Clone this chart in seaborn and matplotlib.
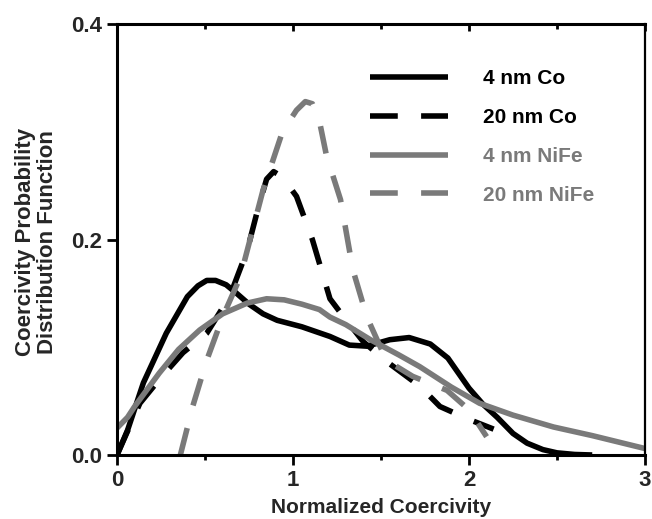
import matplotlib
matplotlib.use("Agg")
import matplotlib.pyplot as plt
import seaborn as sns
import pandas as pd

sns.set_theme(style="white")
plt.rcParams['font.family'] = ['Liberation Sans', 'DejaVu Sans']
plt.rcParams['font.weight'] = 'bold'

series_labels = ["4 nm Co", "20 nm Co", "4 nm NiFe", "20 nm NiFe"]

co4_x = [0, 0.06, 0.15, 0.28, 0.40, 0.46, 0.51, 0.56, 0.62, 0.68, 0.75, 0.83, 0.91, 1.05, 1.21, 1.32,
         1.42, 1.55, 1.66, 1.78, 1.88, 2.0, 2.08, 2.16, 2.25, 2.33, 2.42, 2.5, 2.6, 2.7]
co4_y = [0, 0.023, 0.067, 0.113, 0.147, 0.157, 0.162, 0.162, 0.158, 0.150, 0.140, 0.131, 0.125, 0.119,
         0.110, 0.102, 0.101, 0.107, 0.109, 0.103, 0.090, 0.062, 0.047, 0.035, 0.020, 0.011, 0.005,
         0.002, 0.0005, 0.0]

co20_x = [0, 0.13, 0.25, 0.375, 0.51, 0.64, 0.74, 0.80, 0.85, 0.89, 0.94, 1.02, 1.11, 1.21, 1.27,
          1.40, 1.53, 1.72, 1.835, 2.0, 2.14]
co20_y = [0, 0.048, 0.072, 0.095, 0.113, 0.147, 0.19, 0.228, 0.256, 0.263, 0.258, 0.240, 0.20, 0.145, 0.132,
          0.105, 0.087, 0.064, 0.045, 0.033, 0.024]

nife4_x = [0, 0.06, 0.1, 0.24, 0.35, 0.47, 0.6, 0.74, 0.85, 0.95, 1.05, 1.15, 1.21, 1.3,
           1.44, 1.6, 1.72, 1.9, 2.06, 2.25, 2.48, 2.7, 3.0]
nife4_y = [0.025, 0.035, 0.045, 0.076, 0.098, 0.116, 0.131, 0.141, 0.145, 0.144, 0.140, 0.135, 0.128, 0.121,
           0.107, 0.093, 0.082, 0.063, 0.048, 0.037, 0.026, 0.018, 0.006]

nife20_x = [0.36, 0.43, 0.51, 0.60, 0.70, 0.83, 0.94, 1.02, 1.07, 1.11, 1.15, 1.19, 1.27, 1.34,
            1.42, 1.53, 1.68, 1.875, 2.0, 2.1]
nife20_y = [0, 0.045, 0.088, 0.128, 0.165, 0.246, 0.30, 0.320, 0.328, 0.326, 0.310, 0.278, 0.237, 0.172,
            0.128, 0.088, 0.073, 0.06, 0.042, 0.017]

x_ticks = [0, 1, 2, 3]
x_ticklabels = ["0", "1", "2", "3"]
y_ticks = [0.0, 0.2, 0.4]
y_ticklabels = ["0.0", "0.2", "0.4"]

BLACK = "#000000"
GRAY = "#7a7a7a"
styles = {
    "4 nm Co": (BLACK, None),
    "20 nm Co": (BLACK, (5, 4.2)),
    "4 nm NiFe": (GRAY, None),
    "20 nm NiFe": (GRAY, (5, 4.2)),
}
data = {
    "4 nm Co": (co4_x, co4_y),
    "20 nm Co": (co20_x, co20_y),
    "4 nm NiFe": (nife4_x, nife4_y),
    "20 nm NiFe": (nife20_x, nife20_y),
}

fig = plt.figure(figsize=(6.52, 5.19), dpi=100)
ax = fig.add_axes([117/652, 64/519, 528/652, 431/519])

for lab in series_labels:
    xs, ys = data[lab]
    df = pd.DataFrame({"x": xs, "y": ys})
    color, dash = styles[lab]
    sns.lineplot(data=df, x="x", y="y", ax=ax, color=color, lw=4.0,
                 label=lab, sort=False, estimator=None)
    line = ax.get_lines()[-1]
    line.set_solid_capstyle('butt')
    line.set_solid_joinstyle('round')
    if dash is not None:
        line.set_dashes(dash)
        line.set_dash_capstyle('butt')

ax.set_xlim(0, 3)
ax.set_ylim(0, 0.4)
ax.set_xticks(x_ticks)
ax.set_xticklabels(x_ticklabels)
ax.set_xticks([0.5, 1.5, 2.5], minor=True)
ax.set_yticks(y_ticks)
ax.set_yticklabels(y_ticklabels)

for s in ["left", "bottom", "top"]:
    ax.spines[s].set_linewidth(2.2)
    ax.spines[s].set_color("black")
ax.spines["right"].set_linewidth(1.6)
ax.spines["right"].set_color("black")

ax.tick_params(axis="both", which="major", direction="out", length=7, width=2,
               labelsize=16, color="black", pad=4, bottom=True, left=True)
ax.tick_params(axis="x", which="minor", direction="out", length=3.5, width=2,
               bottom=True, color="black")
for t in ax.get_xticklabels() + ax.get_yticklabels():
    t.set_fontweight("bold")

sec = ax.secondary_xaxis("top")
sec.set_xticks(x_ticks)
sec.set_xticks([0.5, 1.5, 2.5], minor=True)
sec.tick_params(axis="x", which="major", direction="in", length=5, width=2,
                labeltop=False, color="black")
sec.tick_params(axis="x", which="minor", direction="in", length=3.5, width=2,
                labeltop=False, color="black")
sec.spines["top"].set_visible(False)

ax.set_xlabel("Normalized Coercivity", fontsize=15, fontweight="bold")
ax.xaxis.set_label_coords(0.5, -0.1)
ax.set_ylabel("Coercivity Probability\nDistribution Function", fontsize=16,
              fontweight="bold", linespacing=1.05)
ax.yaxis.set_label_coords(-0.112, 0.494)

leg = ax.legend(loc="upper left", bbox_to_anchor=(0.479, 0.895), frameon=False,
                fontsize=15, handlelength=3.75, handletextpad=1.7,
                labelspacing=0.95, borderaxespad=0, borderpad=0)
for txt, lab in zip(leg.get_texts(), series_labels):
    txt.set_color(styles[lab][0])
    txt.set_fontweight("bold")

fig.savefig("out.png", dpi=100)
